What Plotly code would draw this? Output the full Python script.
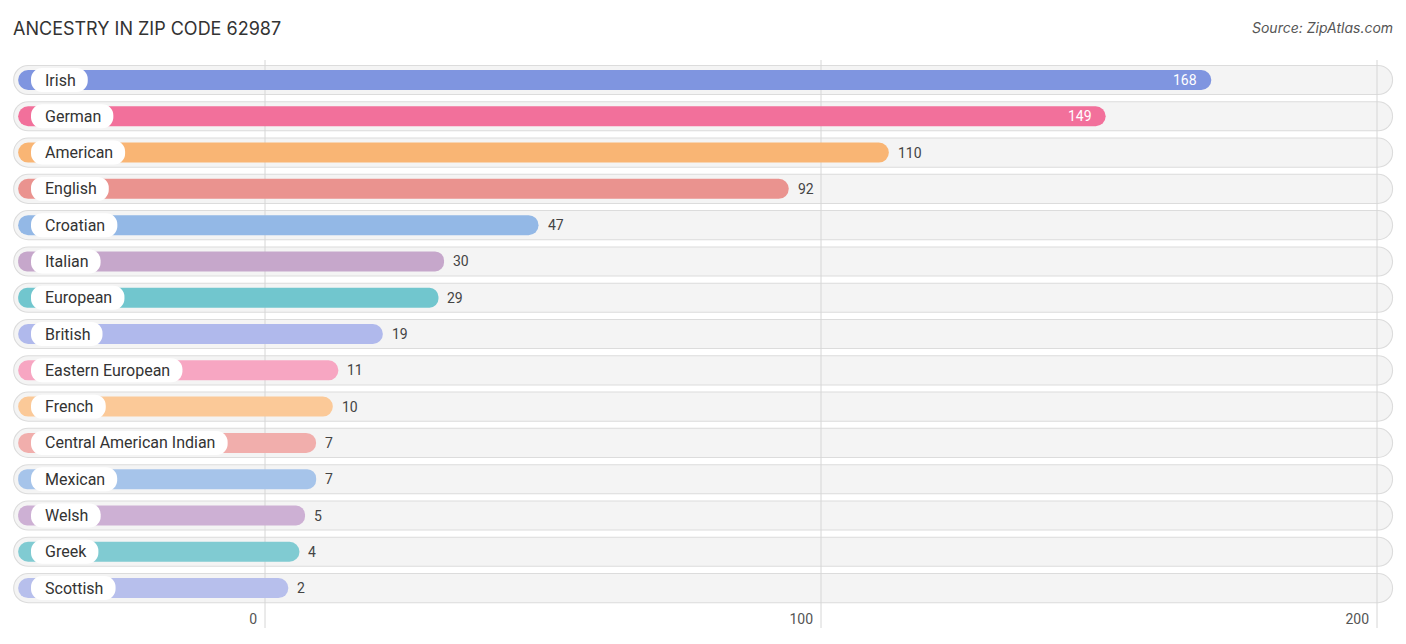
"""Ancestry in zip code 62987 - rounded bar chart"""

import plotly.graph_objects as go

ancestry = [
    "Irish", "German", "American", "English", "Croatian", "Italian", "European",
    "British", "Eastern European", "French", "Central American Indian", "Mexican",
    "Welsh", "Greek", "Scottish",
]
counts = [168, 149, 110, 92, 47, 30, 29, 19, 11, 10, 7, 7, 5, 4, 2]
colors = [
    "#7f95e0", "#f2709b", "#f9b574", "#ea938f", "#93b8e6", "#c6a7cb", "#71c6ce",
    "#b0b9ec", "#f7a6c2", "#fbc998", "#f1aeac", "#a6c4ea", "#cdb0d4", "#80cbd2",
    "#b7bfec",
]
tick_vals = [0, 100, 200]

PX = 5.56  # pixels per data unit
rows = list(range(len(ancestry)))
y_range = [15.1, -0.551]
x_range = [-265 / PX, (1406 - 265) / PX]

# Roboto advance widths (em) to size the white label pills
CHAR_EM = {
    "a": .544, "b": .561, "c": .523, "d": .563, "e": .529, "f": .347, "g": .561,
    "h": .551, "i": .243, "j": .239, "k": .507, "l": .243, "m": .875, "n": .552,
    "o": .570, "p": .561, "r": .339, "s": .517, "t": .327, "u": .551, "v": .484,
    "w": .739, "x": .495, "y": .473, "z": .495, " ": .248, "A": .652, "B": .624,
    "C": .652, "E": .569, "F": .553, "G": .682, "I": .272, "M": .875, "S": .602,
    "W": .890,
}


def text_px(s, size=16):
    return sum(CHAR_EM.get(ch, 0.55) for ch in s) * size


bg_left, bg_right = -45.3, 202.9
bar_left = -44.4
bar_end = [v + 2.2 for v in counts]
pill_left = (31 - 265) / PX
pill_len = [(text_px(s) + 26) / PX for s in ancestry]

fig = go.Figure()


def pill(xa, ya, left, right, width, color, radius):
    left = left if isinstance(left, list) else [left] * len(rows)
    right = right if isinstance(right, list) else [right] * len(rows)
    fig.add_trace(
        go.Bar(
            y=rows,
            x=[r - l for l, r in zip(left, right)],
            base=left,
            orientation="h",
            width=width,
            marker=dict(color=color, cornerradius=radius, line=dict(width=0)),
            xaxis=xa,
            yaxis=ya,
            hoverinfo="skip",
            showlegend=False,
        )
    )


# row backgrounds
pill("x", "y", bg_left, bg_right, 0.83, "#dcdcdc", 15)
pill("x", "y", bg_left + 0.2, bg_right - 0.2, 0.775, "#f4f4f4", 14)

# gridlines above the row backgrounds
for t in tick_vals:
    fig.add_trace(
        go.Scatter(
            x=[t, t],
            y=y_range,
            mode="lines",
            line=dict(color="#d6d6d6", width=1),
            hoverinfo="skip",
            showlegend=False,
        )
    )

# value bars
pill("x2", "y2", bar_left, bar_end, 0.551, colors, 10)

# white label pills
pill_right = [pill_left + w for w in pill_len]
pill("x2", "y2", pill_left, pill_right, 0.66, "#ffffff", 12)

for i, name in enumerate(ancestry):
    fig.add_annotation(
        x=pill_left, y=i, xref="x2", yref="y2", text=name, showarrow=False,
        xanchor="left", xshift=12, font=dict(family="Roboto", size=16, color="#333333"),
    )
    inside = counts[i] > 0.75 * max(counts)
    fig.add_annotation(
        x=bar_end[i], y=i, xref="x2", yref="y2", text=str(counts[i]), showarrow=False,
        xanchor="right" if inside else "left",
        xshift=-12 if inside else 7,
        font=dict(family="Roboto", size=14, color="#ffffff" if inside else "#444444"),
    )

fig.add_annotation(
    x=11, y=28, xref="paper", yref="paper", text="ANCESTRY IN ZIP CODE 62987",
    showarrow=False, xanchor="left", yanchor="middle",
    font=dict(family="Inter", size=18, color="#333333"),
)
fig.add_annotation(
    x=1395, y=27, xref="paper", yref="paper", text="<i>Source: ZipAtlas.com</i>",
    showarrow=False, xanchor="right", yanchor="middle",
    font=dict(family="Inter", size=14, color="#555555"),
)

fig.update_layout(
    width=1406,
    height=644,
    margin=dict(l=0, r=0, t=60, b=16),
    paper_bgcolor="white",
    plot_bgcolor="white",
    barmode="overlay",
    xaxis=dict(
        range=x_range, tickvals=tick_vals, showgrid=False, zeroline=False,
        showline=False, ticks="", ticklabelposition="inside left",
        ticklabelshift=-8, ticklabelstandoff=-5,
        tickfont=dict(family="Roboto", size=14, color="#555555"),
    ),
    yaxis=dict(range=y_range, visible=False),
    xaxis2=dict(range=x_range, overlaying="x", visible=False),
    yaxis2=dict(range=y_range, overlaying="y", visible=False),
)

# paper annotations given in pixels -> convert to paper fractions
for ann in fig.layout.annotations:
    if ann.xref == "paper":
        ann.x = ann.x / 1406
        ann.y = (644 - 16 - ann.y) / (644 - 60 - 16)

fig.write_html(
    "out.html",
    config={"displayModeBar": False},
    post_script="document.body.style.margin = '0';",
)
